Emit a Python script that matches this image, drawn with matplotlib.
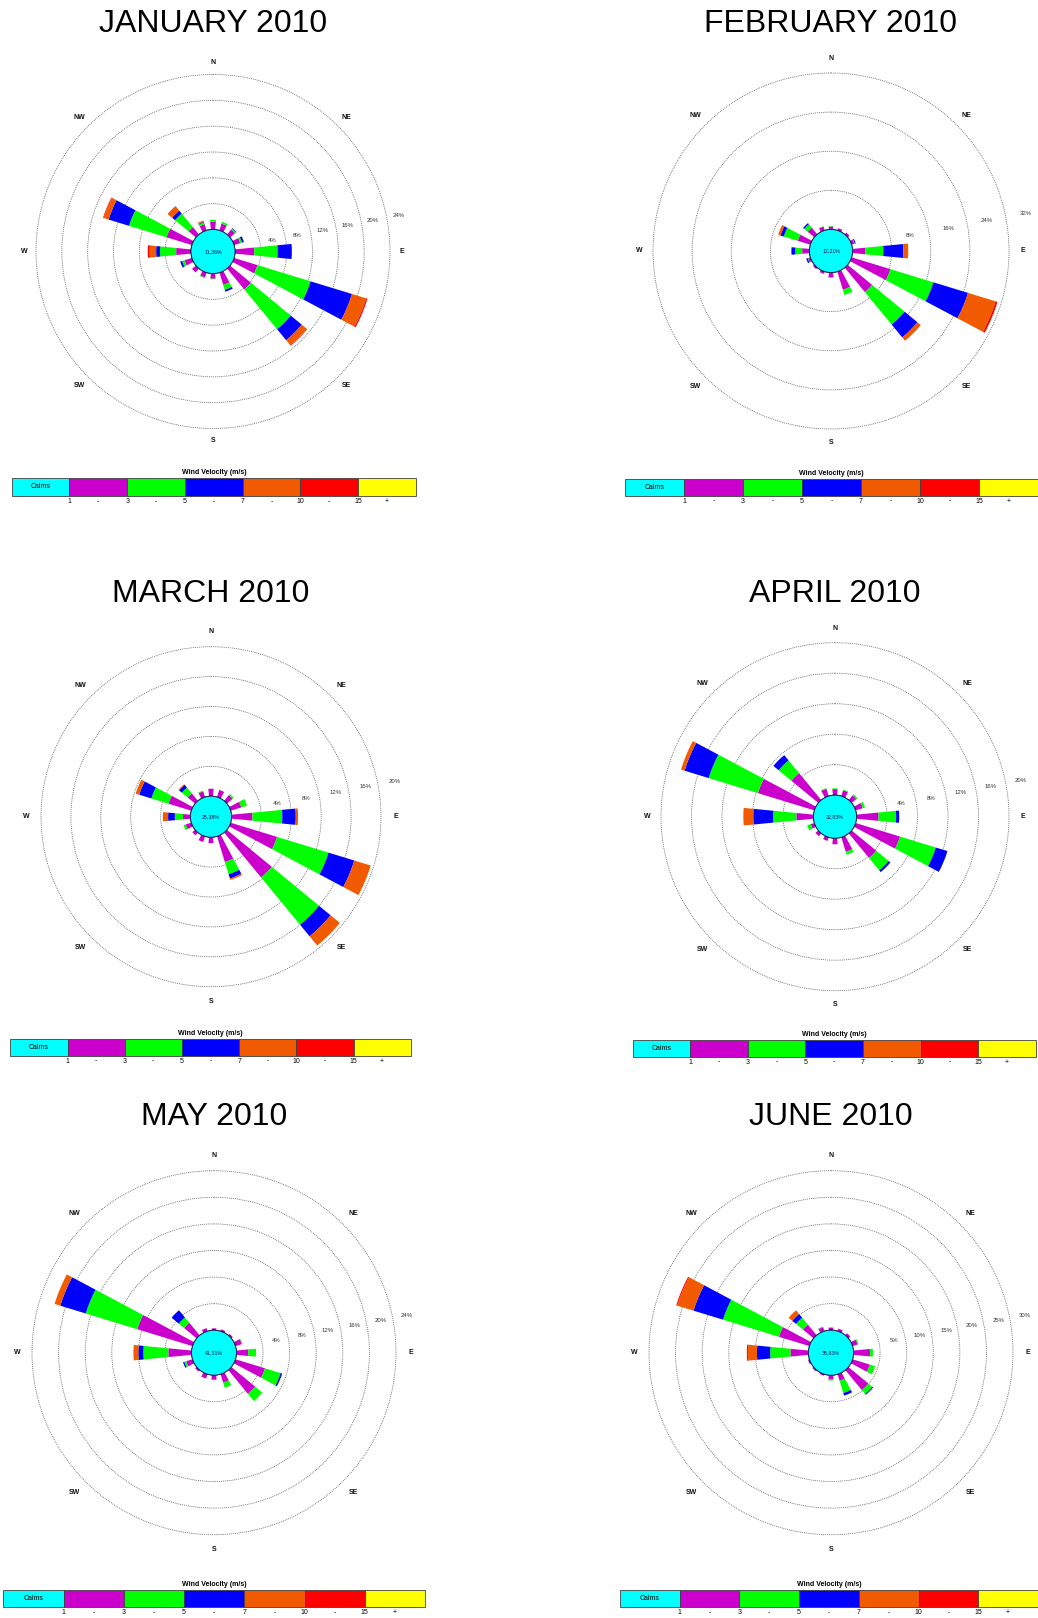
import numpy as np
import matplotlib
matplotlib.use("Agg")
import matplotlib.pyplot as plt
from matplotlib.patches import Circle

plt.rcParams['font.family'] = ['Liberation Sans', 'DejaVu Sans']

FIG_W, FIG_H = 1038, 1618

# ---------------------------------------------------------------- data
directions = ['N', 'NNE', 'NE', 'ENE', 'E', 'ESE', 'SE', 'SSE',
              'S', 'SSW', 'SW', 'WSW', 'W', 'WNW', 'NW', 'NNW']
compass_labels = ['N', 'NE', 'E', 'SE', 'S', 'SW', 'W', 'NW']
speed_bins = ['Calms', '1 - 3', '3 - 5', '5 - 7', '7 - 10', '10 - 15', '15 +']
legend_ticks = ['1', '3', '5', '7', '10', '15']
bin_colors = ['#00FFFF', '#CC00CC', '#00FF00', '#0000FF', '#F25A00', '#FF0000', '#FFFF00']

month_titles = ['JANUARY 2010', 'FEBRUARY 2010', 'MARCH 2010',
                'APRIL 2010', 'MAY 2010', 'JUNE 2010']
calms_pct = [11.36, 12.21, 25.38, 32.83, 41.31, 35.83]

jan_rings = [4, 8, 12, 16, 20, 24]
feb_rings = [8, 16, 24, 32]
mar_rings = [4, 8, 12, 16, 20]
apr_rings = [4, 8, 12, 16, 20]
may_rings = [4, 8, 12, 16, 20, 24]
jun_rings = [5, 10, 15, 20, 25, 30]

# frequency (%) per direction, one list per wind-speed class (m/s)
jan_1_3   = [1.2, 1.1, 1.0, 1.0, 3.0, 3.8, 4.2, 2.0, 0.8, 0.8, 0.8, 1.2, 2.3, 4.1, 1.5, 1.0]
jan_3_5   = [0.3, 0.3, 0.2, 0.3, 3.6, 8.6, 8.0, 0.8, 0.1, 0.1, 0.0, 0.4, 2.5, 6.1, 2.7, 0.3]
jan_5_7   = [0.0, 0.0, 0.1, 0.3, 2.2, 6.7, 2.2, 0.3, 0.0, 0.0, 0.0, 0.3, 0.6, 3.3, 0.6, 0.1]
jan_7_10  = [0.0, 0.0, 0.0, 0.0, 0.0, 2.3, 1.0, 0.0, 0.0, 0.0, 0.0, 0.0, 1.0, 0.8, 0.8, 0.2]
jan_10_15 = [0.0, 0.0, 0.0, 0.0, 0.0, 0.2, 0.1, 0.0, 0.0, 0.0, 0.0, 0.0, 0.3, 0.1, 0.1, 0.0]

feb_1_3   = [0.6, 0.5, 0.5, 0.6, 2.6, 8.3, 6.5, 3.9, 1.0, 0.5, 0.4, 0.5, 1.5, 2.7, 1.8, 0.8]
feb_3_5   = [0.1, 0.0, 0.0, 0.1, 3.7, 9.2, 8.6, 1.1, 0.1, 0.0, 0.0, 0.1, 1.4, 3.0, 0.9, 0.1]
feb_5_7   = [0.0, 0.0, 0.0, 0.2, 4.1, 7.4, 3.4, 0.0, 0.0, 0.0, 0.0, 0.3, 0.8, 0.7, 0.3, 0.0]
feb_7_10  = [0.0, 0.0, 0.0, 0.0, 1.0, 5.9, 0.9, 0.0, 0.0, 0.0, 0.0, 0.0, 0.0, 0.5, 0.0, 0.0]
feb_10_15 = [0.0, 0.0, 0.0, 0.0, 0.0, 0.4, 0.0, 0.0, 0.0, 0.0, 0.0, 0.0, 0.0, 0.0, 0.0, 0.0]

mar_1_3   = [1.0, 1.0, 1.0, 1.5, 2.8, 6.5, 7.8, 3.6, 0.8, 0.8, 0.5, 0.8, 1.0, 3.2, 1.3, 0.8]
mar_3_5   = [0.0, 0.0, 0.2, 0.8, 4.0, 7.2, 8.2, 1.7, 0.0, 0.0, 0.0, 0.3, 1.1, 2.4, 1.0, 0.1]
mar_5_7   = [0.0, 0.0, 0.0, 0.0, 1.8, 3.6, 2.0, 0.6, 0.0, 0.0, 0.0, 0.0, 0.9, 1.7, 0.5, 0.0]
mar_7_10  = [0.0, 0.0, 0.0, 0.0, 0.3, 2.3, 1.6, 0.2, 0.0, 0.0, 0.0, 0.0, 0.7, 0.5, 0.1, 0.0]
mar_10_15 = [0.0, 0.0, 0.0, 0.0, 0.0, 0.0, 0.0, 0.0, 0.0, 0.0, 0.0, 0.0, 0.0, 0.0, 0.0, 0.0]

apr_1_3   = [0.8, 0.8, 0.8, 1.0, 2.9, 6.1, 4.2, 2.0, 0.8, 0.5, 0.5, 0.5, 2.25, 7.75, 4.6, 1.0]
apr_3_5   = [0.1, 0.1, 0.2, 0.3, 2.3, 4.9, 2.1, 0.4, 0.0, 0.0, 0.0, 0.5, 3.05, 6.75, 2.15, 0.1]
apr_5_7   = [0.0, 0.0, 0.0, 0.0, 0.4, 1.6, 0.3, 0.0, 0.0, 0.0, 0.0, 0.0, 2.6, 3.3, 0.9, 0.0]
apr_7_10  = [0.0, 0.0, 0.0, 0.0, 0.0, 0.0, 0.0, 0.0, 0.0, 0.0, 0.0, 0.0, 1.3, 0.5, 0.0, 0.0]
apr_10_15 = [0.0, 0.0, 0.0, 0.0, 0.0, 0.0, 0.0, 0.0, 0.0, 0.0, 0.0, 0.0, 0.0, 0.0, 0.0, 0.0]

may_1_3   = [0.3, 0.3, 0.3, 1.0, 1.8, 4.65, 4.65, 1.35, 0.7, 0.7, 0.3, 1.0, 3.5, 8.7, 2.45, 0.5]
may_3_5   = [0.0, 0.0, 0.0, 0.1, 1.15, 2.45, 1.4, 0.8, 0.0, 0.0, 0.0, 0.3, 3.75, 8.1, 1.05, 0.0]
may_5_7   = [0.0, 0.0, 0.0, 0.0, 0.0, 0.25, 0.0, 0.0, 0.0, 0.0, 0.0, 0.2, 0.75, 4.0, 1.4, 0.0]
may_7_10  = [0.0, 0.0, 0.0, 0.0, 0.0, 0.0, 0.0, 0.0, 0.0, 0.0, 0.0, 0.0, 0.75, 0.9, 0.0, 0.0]
may_10_15 = [0.0, 0.0, 0.0, 0.0, 0.0, 0.0, 0.0, 0.0, 0.0, 0.0, 0.0, 0.0, 0.0, 0.0, 0.0, 0.0]

jun_1_3   = [0.5, 0.5, 0.5, 1.0, 3.1, 3.4, 4.9, 1.3, 0.8, 0.3, 0.3, 0.3, 3.4, 6.0, 2.6, 0.8]
jun_3_5   = [0.0, 0.0, 0.0, 0.2, 0.55, 1.05, 0.95, 2.4, 0.2, 0.0, 0.0, 0.0, 3.8, 11.0, 1.7, 0.1]
jun_5_7   = [0.0, 0.0, 0.0, 0.0, 0.0, 0.0, 0.2, 0.5, 0.0, 0.0, 0.0, 0.0, 2.5, 5.8, 0.9, 0.0]
jun_7_10  = [0.0, 0.0, 0.0, 0.0, 0.0, 0.0, 0.0, 0.0, 0.0, 0.0, 0.0, 0.0, 1.7, 3.2, 0.9, 0.0]
jun_10_15 = [0.0, 0.0, 0.0, 0.0, 0.0, 0.0, 0.0, 0.0, 0.0, 0.0, 0.0, 0.0, 0.2, 0.2, 0.0, 0.0]

month_classes = [
    [jan_1_3, jan_3_5, jan_5_7, jan_7_10, jan_10_15],
    [feb_1_3, feb_3_5, feb_5_7, feb_7_10, feb_10_15],
    [mar_1_3, mar_3_5, mar_5_7, mar_7_10, mar_10_15],
    [apr_1_3, apr_3_5, apr_5_7, apr_7_10, apr_10_15],
    [may_1_3, may_3_5, may_5_7, may_7_10, may_10_15],
    [jun_1_3, jun_3_5, jun_5_7, jun_7_10, jun_10_15],
]
month_rings = [jan_rings, feb_rings, mar_rings, apr_rings, may_rings, jun_rings]

# ---------------------------------------------------------------- layout (pixels)
# centre x, centre y, outer ring radius, calm disc radius, ring-label offset,
# compass-label offset, title y
rose_layout = [
    (213, 251.5, 177, 22.0, 12, 12, 23.5),
    (831, 251.0, 178, 21.5, 20, 14, 23.5),
    (211, 816.7, 170, 20.5, 17, 15, 593.5),
    (835, 816.7, 174, 21.5, 15, 14, 593.5),
    (214, 1352.7, 182, 22.4, 14, 15, 1117),
    (831, 1352.7, 182, 22.5, 15, 15, 1117),
]
# legend bar: x left, x right, y top, y bottom
legend_layout = [
    (11.7, 416.0, 478.3, 495.7),
    (625.0, 1038.0, 479.0, 495.5),
    (10.3, 410.7, 1039.0, 1055.6),
    (632.5, 1036.0, 1040.0, 1056.6),
    (3.3, 425.0, 1590.0, 1606.7),
    (620.0, 1038.0, 1590.0, 1606.7),
]

fig = plt.figure(figsize=(FIG_W / 100, FIG_H / 100), dpi=100)
fig.patch.set_facecolor('white')

theta = np.deg2rad(22.5 * np.arange(len(directions)))
bar_width = np.deg2rad(11)


def draw_rose(title, classes, calm, rings, cx, cy, R, r0, lab_off, dir_off, ty):
    rmax = rings[-1]
    k = (R - r0) / rmax          # pixels per percent
    pad = 1.5
    Rax = R + pad
    ax = fig.add_axes([(cx - Rax) / FIG_W, 1 - (cy + Rax) / FIG_H,
                       2 * Rax / FIG_W, 2 * Rax / FIG_H], projection='polar')
    ax.set_theta_zero_location('N')
    ax.set_theta_direction(-1)
    ax.set_ylim(0, rmax + pad / k)
    ax.set_rorigin(-r0 / k)
    ax.set_facecolor('none')
    for s in ax.spines.values():
        s.set_visible(False)
    ax.set_xticks([])
    ax.set_yticks(rings)
    ax.set_yticklabels([])
    ax.tick_params(length=0)
    ax.set_axisbelow(True)
    ax.yaxis.grid(True, color='#555555', linestyle=(0, (1, 1.3)), linewidth=0.6)

    bottom = np.zeros(len(directions))
    for vals, color in zip(classes, bin_colors[1:]):
        vals = np.asarray(vals, dtype=float)
        ax.bar(theta, vals, width=bar_width, bottom=bottom, color=color,
               edgecolor='none', linewidth=0, zorder=2)
        bottom += vals

    # calm disc sits in the hole left by the radial origin offset
    disc = Circle((0.5, 0.5), r0 / (2 * Rax), transform=ax.transAxes,
                  facecolor=bin_colors[0], edgecolor='#20205a', linewidth=0.6,
                  zorder=4, clip_on=False)
    ax.add_patch(disc)
    ax.text(0.5, 0.5, f'{calm:.2f}%'.replace('.', ','), transform=ax.transAxes,
            ha='center', va='center', fontsize=3.8, color='#10104a', zorder=5)

    for i, lab in enumerate(compass_labels):
        ax.text(np.deg2rad(45 * i), rmax + dir_off / k, lab, ha='center',
                va='center', fontsize=5, fontweight='bold', color='#111111')
    for v in rings:
        ax.text(np.deg2rad(79), v + lab_off / k, f'{v}%', ha='center',
                va='center', fontsize=4.3, color='#333333')

    fig.text(cx / FIG_W, 1 - ty / FIG_H, title, ha='center', va='center',
             fontsize=23, color='black')


def draw_legend(x0, x1, y0, y1):
    lax = fig.add_axes([x0 / FIG_W, 1 - y1 / FIG_H, (x1 - x0) / FIG_W, (y1 - y0) / FIG_H])
    n = len(speed_bins)
    bars = lax.barh(0, np.ones(n), left=np.arange(n), height=1, color=bin_colors,
                    edgecolor='#404040', linewidth=0.6)
    for b in bars:
        b.set_clip_on(False)
    lax.set_xlim(0, n)
    lax.set_ylim(-0.5, 0.5)
    lax.axis('off')
    lax.text(0.5, 0, speed_bins[0], ha='center', va='center', fontsize=5)
    lax.annotate('Wind Velocity (m/s)', xy=(0.5, 1), xycoords='axes fraction',
                 xytext=(0, 1.5), textcoords='offset points', ha='center',
                 va='bottom', fontsize=5, fontweight='bold')
    for i, t in enumerate(legend_ticks):
        lax.annotate(t, xy=(i + 1, 0), xycoords=('data', 'axes fraction'),
                     xytext=(0, -1.5), textcoords='offset points', ha='center',
                     va='top', fontsize=5)
    for i in range(len(legend_ticks) - 1):
        lax.annotate('-', xy=(i + 1.5, 0), xycoords=('data', 'axes fraction'),
                     xytext=(0, -1.5), textcoords='offset points', ha='center',
                     va='top', fontsize=5)
    lax.annotate('+', xy=(n - 0.5, 0), xycoords=('data', 'axes fraction'),
                 xytext=(0, -1.5), textcoords='offset points', ha='center',
                 va='top', fontsize=5)


for title, classes, calm, rings, lay, leg in zip(month_titles, month_classes, calms_pct,
                                                 month_rings, rose_layout, legend_layout):
    draw_rose(title, classes, calm, rings, *lay)
    draw_legend(*leg)

fig.savefig('out.png', dpi=100, facecolor='white')
